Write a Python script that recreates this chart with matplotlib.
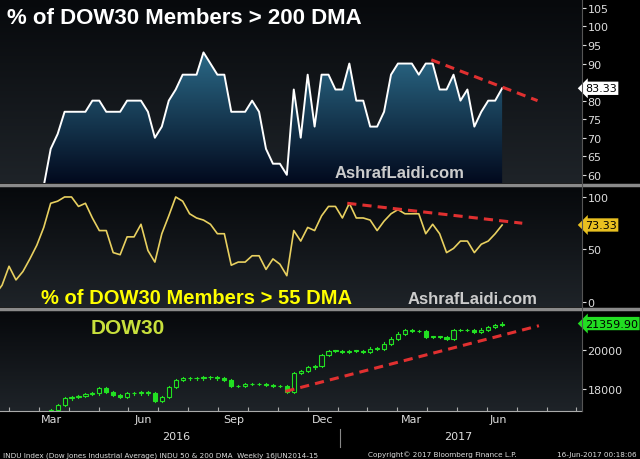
import numpy as np
import matplotlib.pyplot as plt
from matplotlib.patches import Rectangle

# weekly series, last point = 16-Jun-2017
dma200 = [57, 67, 71, 77, 77, 77, 77, 80, 80, 77, 77, 77, 80, 80, 80, 77, 70, 73, 80, 83,
          87, 87, 87, 93, 90, 87, 87, 77, 77, 77, 80, 77, 67, 63, 63, 60, 83, 70, 87, 73,
          87, 87, 83, 83, 90, 80, 80, 73, 73, 77, 87, 90, 90, 90, 87, 90, 90, 83, 83, 87,
          80, 83, 73, 77, 80, 80, 83.33]
dma55 = [7, 16, 34, 21, 29, 41, 54, 71, 94, 96, 100, 100, 91, 94, 80, 68, 68, 47, 45, 62,
         62, 74, 49, 38, 65, 82, 100, 96, 84, 80, 78, 74, 65, 65, 35, 38, 38, 44, 44, 31,
         41, 36, 25, 68, 58, 71, 68, 82, 91, 91, 80, 94, 80, 80, 78, 68, 77, 84, 88, 84,
         84, 84, 65, 74, 65, 47, 51, 58, 58, 47, 55, 58, 65, 73.33]
dow_close = [16950, 17200, 17540, 17630, 17660, 17760, 17800, 18050, 17880, 17710, 17630,
             17800, 17800, 17880, 17800, 17400, 17630, 18130, 18470, 18560, 18560, 18560,
             18610, 18610, 18560, 18470, 18170, 18170, 18270, 18270, 18270, 18220, 18170,
             18170, 17890, 18850, 18950, 19120, 19190, 19750, 19970, 19970, 19920, 19970,
             19970, 19920, 20080, 20080, 20340, 20590, 20850, 21020, 20970, 20970, 20680,
             20680, 20680, 20590, 21020, 21020, 21020, 20930, 21050, 21190, 21270, 21359.90]
trend200 = [91, 80]
trend55 = [94, 75]
trend_dow = [17900, 21250]
months = ["Mar", "Jun", "Sep", "Dec", "Mar", "Jun"]

end = 72
def xs(v):
    return np.arange(end - len(v) + 1, end + 1)

bg = "#000000"
fig = plt.figure(figsize=(6.4, 4.6), dpi=100, facecolor=bg)
W = 582 / 640
xlim = (-0.3, 83.5)
month_pos = [7.1, 20.4, 33.3, 46.1, 58.9, 71.4]
grad = np.linspace(0, 1, 100).reshape(-1, 1)

def panel(rect):
    ax = fig.add_axes(rect)
    ax.set_facecolor("#15181c")
    ax.imshow(grad, extent=[0, 1, 0, 1], transform=ax.transAxes, aspect="auto",
              cmap=plt.matplotlib.colors.LinearSegmentedColormap.from_list("g", ["#07090c", "#1e2328"]),
              zorder=0)
    ax.set_xlim(*xlim)
    ax.yaxis.tick_right()
    ax.tick_params(axis="y", colors="#dddddd", labelsize=8, length=3, pad=1)
    ax.tick_params(axis="x", colors="#dddddd", length=3)
    for s in ax.spines.values():
        s.set_visible(False)
    ax.set_xticks([])
    return ax

# top panel
ax1 = panel([0, 1 - 184 / 460, W, 184 / 460])
ax1.set_ylim(57.8, 107.4)
ax1.set_yticks([60, 65, 70, 75, 80, 90, 95, 100, 105])
x1 = xs(dma200)
ax1.plot(x1, dma200, color="white", lw=1.4, zorder=3)
poly = ax1.fill_between(x1, dma200, 50, color="none")
img = ax1.imshow(grad, extent=[x1[0], x1[-1], 57.8, 95], aspect="auto", origin="lower",
                 cmap=plt.matplotlib.colors.LinearSegmentedColormap.from_list("b", ["#020a1e", "#2d6e8c"]),
                 zorder=2)
img.set_clip_path(poly.get_paths()[0], transform=ax1.transData)
ax1.set_xlim(*xlim)
ax1.plot([61.8, 77.1], trend200, color="#e03030", lw=2.2, ls=(0, (3, 2)), zorder=4)
ax1.text(0.012, 0.87, "% of DOW30 Members > 200 DMA", transform=ax1.transAxes, color="white",
         fontsize=16, fontweight="bold", family="Liberation Sans")
ax1.text(0.575, 0.03, "AshrafLaidi.com", transform=ax1.transAxes, color="#cccccc",
         fontsize=12, fontweight="bold", family="Liberation Sans")
ax1.text(1.005, 83.33, "83.33", transform=ax1.get_yaxis_transform(), color="black", fontsize=8,
         va="center", bbox=dict(boxstyle="larrow,pad=0.15", fc="white", ec="none"), zorder=6)

# middle panel
ax2 = panel([0, 1 - 308 / 460, W, 120 / 460])
ax2.set_ylim(-4.8, 109.5)
ax2.set_yticks([0, 50, 100])
ax2.plot(xs(dma55), dma55, color="#e8d060", lw=1.2, zorder=3)
ax2.plot([49.7, 74.9], trend55, color="#e03030", lw=2.2, ls=(0, (3, 2)), zorder=4)
ax2.text(0.07, 0.03, "% of DOW30 Members > 55 DMA", transform=ax2.transAxes, color="#ffff00",
         fontsize=14.5, fontweight="bold", family="Liberation Sans")
ax2.text(0.7, 0.03, "AshrafLaidi.com", transform=ax2.transAxes, color="#cccccc",
         fontsize=12, fontweight="bold", family="Liberation Sans")
ax2.text(1.005, 73.33, "73.33", transform=ax2.get_yaxis_transform(), color="black", fontsize=8,
         va="center", bbox=dict(boxstyle="larrow,pad=0.15", fc="#e8c020", ec="none"), zorder=6)

# bottom panel
ax3 = panel([0, 1 - 412 / 460, W, 100 / 460])
ax3.set_ylim(16900, 22000)
ax3.set_yticks([18000, 20000])
x3 = xs(dow_close)
green = "#22e022"
for i, (x, c) in enumerate(zip(x3, dow_close)):
    o = dow_close[i - 1] if i > 0 else c - 150
    lo, hi = min(o, c), max(o, c)
    ax3.plot([x, x], [lo - 60, hi + 60], color=green, lw=0.8, zorder=3)
    h = max(hi - lo, 25)
    ax3.add_patch(Rectangle((x - 0.3, lo), 0.6, h, fc=green if c < o else "#15181c",
                            ec=green, lw=0.8, zorder=4))
ax3.plot([40.8, 77.3], trend_dow, color="#e03030", lw=2.2, ls=(0, (3, 2)), zorder=5)
ax3.text(0.155, 0.78, "DOW30", transform=ax3.transAxes, color="#c8e03c",
         fontsize=15, fontweight="bold", family="Liberation Sans")
ax3.text(1.005, 21359.9, "21359.90", transform=ax3.get_yaxis_transform(), color="black", fontsize=8,
         va="center", bbox=dict(boxstyle="larrow,pad=0.15", fc="#22dd22", ec="none"), zorder=6)
ax3.set_xticks(np.arange(1, 84, 4.3))
ax3.tick_params(axis="x", labelbottom=False, length=3, direction="in", colors="#aaaaaa")
ax3.spines["bottom"].set_visible(True)
ax3.spines["bottom"].set_color("#aaaaaa")
for p, m in zip(month_pos, months):
    ax3.text(p, -0.03, m, transform=ax3.get_xaxis_transform(), color="#dddddd",
             fontsize=8, ha="center", va="top")
ax3.text(25, -0.2, "2016", transform=ax3.get_xaxis_transform(), color="#dddddd", fontsize=8, ha="center", va="top")
ax3.text(65.7, -0.2, "2017", transform=ax3.get_xaxis_transform(), color="#dddddd", fontsize=8, ha="center", va="top")
ax3.plot([48.6, 48.6], [-0.18, -0.36], transform=ax3.get_xaxis_transform(), color="#888888",
         lw=0.8, clip_on=False)

# separators
for yy in [1 - 185.5 / 460, 1 - 309.5 / 460]:
    fig.add_artist(plt.Line2D([0, 1], [yy, yy], color="#8a8a8a", lw=2.5))
fig.add_artist(plt.Line2D([W, W], [1 - 412 / 460, 1], color="#555555", lw=0.8))

fig.text(0.005, 0.006, "INDU Index (Dow Jones Industrial Average) INDU 50 & 200 DMA  Weekly 16JUN2014-15",
         color="#dddddd", fontsize=5.2)
fig.text(0.575, 0.006, "Copyright\u00a9 2017 Bloomberg Finance L.P.", color="#dddddd", fontsize=5.2)
fig.text(0.995, 0.006, "16-Jun-2017 00:18:06", color="#dddddd", fontsize=5.2, ha="right")

fig.savefig("out.png", facecolor=bg)
